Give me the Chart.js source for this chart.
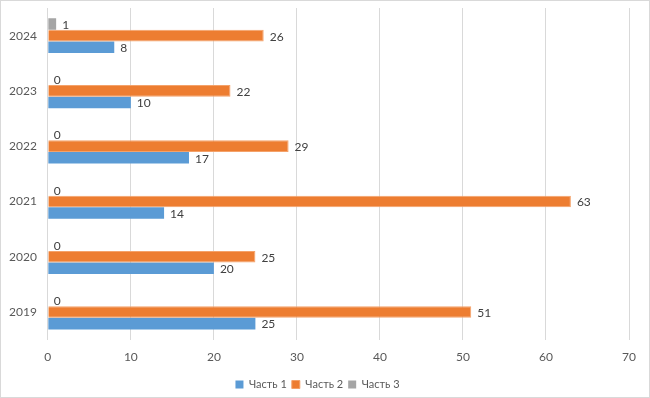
<!DOCTYPE html>
<html lang="ru">
<head>
  <meta charset="utf-8">
  <title>Части по годам</title>
  <script src="https://cdn.jsdelivr.net/npm/chart.js@4.4.0/dist/chart.umd.min.js"></script>
  <style>
    body { margin: 0; background: #fff; }
    .kontainer { width: 648px; height: 396px; border: 1px solid #d9d9d9; }
  </style>
</head>
<body>
  <div class="kontainer">
    <canvas id="myChart"></canvas>
  </div>

  <script>
    // годы сверху вниз, как на графике
    const years = ['2024', '2023', '2022', '2021', '2020', '2019'];
    const part1 = [8, 10, 17, 14, 20, 25];
    const part2 = [26, 22, 29, 63, 25, 51];
    const part3 = [1, 0, 0, 0, 0, 0];

    // подписи значений справа от столбиков
    const valueLabels = {
      id: 'valueLabels',
      afterDatasetsDraw(chart) {
        const ctx = chart.ctx;
        ctx.save();
        ctx.font = '12px Lato';
        ctx.fillStyle = '#404040';
        ctx.textBaseline = 'middle';
        ctx.textAlign = 'left';
        chart.data.datasets.forEach((ds, i) => {
          const meta = chart.getDatasetMeta(i);
          meta.data.forEach((bar, j) => {
            ctx.fillText(ds.data[j], bar.x + 6, bar.y + 1);
          });
        });
        ctx.restore();
      }
    };

    const ctx = document.getElementById('myChart').getContext('2d');
    Chart.defaults.font.family = 'Lato';
    Chart.defaults.color = '#595959';
    const myChart = new Chart(ctx, {
      type: 'bar',
      data: {
        labels: years,
        // порядок наборов обратный, чтобы «Часть 1» была снизу в группе
        datasets: [
          { label: 'Часть 3', data: part3, backgroundColor: '#a5a5a5' },
          { label: 'Часть 2', data: part2, backgroundColor: '#ed7d31', borderColor: '#f4a26a', borderWidth: 1 },
          { label: 'Часть 1', data: part1, backgroundColor: '#5b9bd5' }
        ]
      },
      options: {
        indexAxis: 'y',
        responsive: true,
        maintainAspectRatio: false,
        animation: false,
        categoryPercentage: 0.63,
        barPercentage: 1,
        layout: { padding: { left: 5, right: 20, top: 7, bottom: -3 } },
        scales: {
          x: {
            min: 0,
            max: 70,
            ticks: { stepSize: 10, font: { size: 12 }, padding: 10 },
            grid: { color: '#d9d9d9', drawTicks: false },
            border: { display: false }
          },
          y: {
            ticks: { font: { size: 12, lineHeight: 0.5 }, padding: 3 },
            grid: { display: false },
            border: { color: '#d9d9d9' }
          }
        },
        plugins: {
          legend: {
            position: 'bottom',
            reverse: true,
            labels: { boxWidth: 8, boxHeight: 8, font: { size: 11 }, padding: 5 }
          },
          tooltip: { enabled: false }
        }
      },
      plugins: [valueLabels]
    });
  </script>
</body>
</html>
